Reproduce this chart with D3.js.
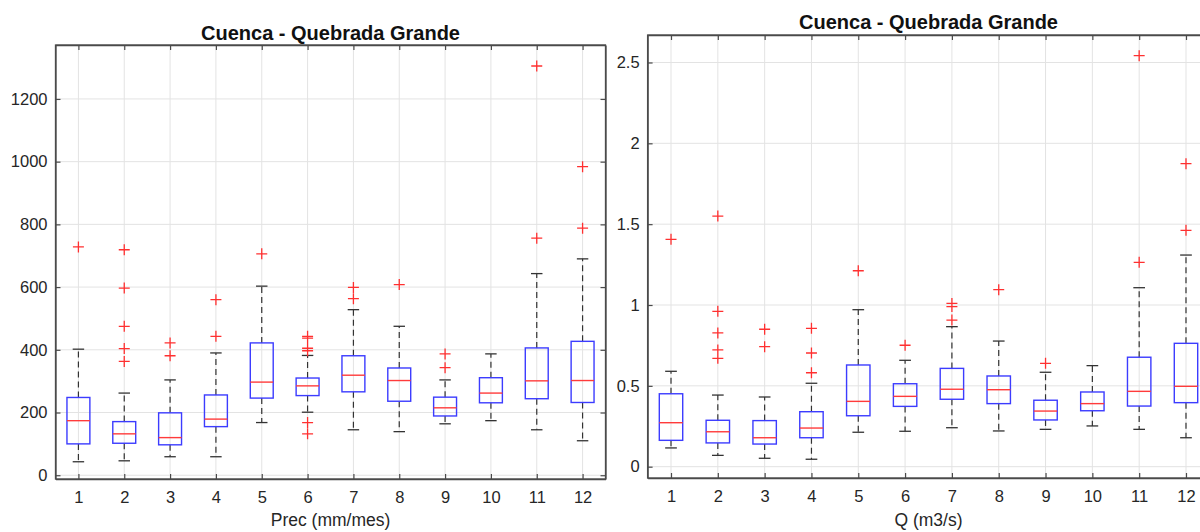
<!DOCTYPE html>
<html>
<head>
<meta charset="utf-8">
<script src="https://cdn.jsdelivr.net/npm/d3@7/dist/d3.min.js"></script>
<style>
  html, body { margin: 0; padding: 0; background: #fff; }
  svg { display: block; font-family: "Liberation Sans", Arial, Helvetica, sans-serif; }
</style>
</head>
<body>
<svg id="chart" width="1200" height="532"></svg>
<script>
// ---------- DATA ----------
const months = [1, 2, 3, 4, 5, 6, 7, 8, 9, 10, 11, 12];
const titleText = "Cuenca - Quebrada Grande";

// Left panel: Precipitation (mm/mes)
const precLow    = [43, 46, 59, 59, 168, 201, 145, 139, 164, 174, 145, 110];
const precQ1     = [100, 102, 97, 155, 246, 254, 266, 236, 189, 231, 244, 232];
const precMedian = [174, 132, 120, 179, 297, 285, 319, 302, 215, 262, 301, 302];
const precQ3     = [248, 171, 199, 256, 422, 310, 381, 342, 249, 311, 406, 427];
const precHigh   = [402, 262, 304, 390, 603, 382, 528, 475, 304, 387, 643, 690];
const precOutliers = [
  [728], [363, 404, 475, 597, 719], [381, 422], [443, 560], [706],
  [132, 168, 397, 405, 437, 443], [563, 599], [608], [343, 387], [], [756, 1305], [788, 984]
];
const precTicks = [0, 200, 400, 600, 800, 1000, 1200];

// Right panel: Discharge Q (m3/s)
const qLow    = [0.116, 0.070, 0.052, 0.046, 0.213, 0.219, 0.241, 0.221, 0.231, 0.252, 0.231, 0.179];
const qQ1     = [0.163, 0.147, 0.140, 0.179, 0.315, 0.373, 0.417, 0.390, 0.289, 0.346, 0.375, 0.396];
const qMedian = [0.272, 0.216, 0.179, 0.239, 0.404, 0.435, 0.479, 0.476, 0.344, 0.390, 0.466, 0.497];
const qQ3     = [0.451, 0.287, 0.285, 0.340, 0.629, 0.513, 0.608, 0.561, 0.411, 0.462, 0.677, 0.763];
const qHigh   = [0.590, 0.443, 0.431, 0.516, 0.971, 0.658, 0.866, 0.777, 0.584, 0.625, 1.107, 1.309];
const qOutliers = [
  [1.406], [0.670, 0.722, 0.827, 0.961, 1.550], [0.742, 0.850], [0.581, 0.703, 0.856], [1.212],
  [0.751], [0.907, 0.990, 1.010], [1.095], [0.639], [], [1.264, 2.542], [1.462, 1.874]
];
const qTicks = [0, 0.5, 1, 1.5, 2, 2.5];

// ---------- DRAW ----------
const svg = d3.select("#chart");

const panels = [
  {
    low: precLow, q1: precQ1, med: precMedian, q3: precQ3, high: precHigh, out: precOutliers,
    ticks: precTicks, xlabel: "Prec (mm/mes)",
    xRange: [55.5, 605.5], yDomain: [-12, 1372], yRange: [479, 45], titleY: 40
  },
  {
    low: qLow, q1: qQ1, med: qMedian, q3: qQ3, high: qHigh, out: qOutliers,
    ticks: qTicks, xlabel: "Q (m3/s)",
    xRange: [647.6, 1209.4], yDomain: [-0.07, 2.67], yRange: [478, 35], titleY: 29
  }
];

const axisColor = "#4a4a4a";
const textColor = "#262626";
const gridColor = "#e3e3e3";

panels.forEach(p => {
  const x = d3.scaleLinear().domain([0.5, 12.5]).range(p.xRange);
  const y = d3.scaleLinear().domain(p.yDomain).range(p.yRange);
  const [x0, x1] = p.xRange;
  const [yb, yt] = p.yRange;
  const g = svg.append("g");

  // grid
  g.append("g").selectAll("line.gx").data(months).join("line")
    .attr("x1", d => x(d)).attr("x2", d => x(d))
    .attr("y1", yt).attr("y2", yb)
    .attr("stroke", gridColor).attr("stroke-width", 1);
  g.append("g").selectAll("line.gy").data(p.ticks).join("line")
    .attr("x1", x0).attr("x2", x1)
    .attr("y1", d => y(d)).attr("y2", d => y(d))
    .attr("stroke", gridColor).attr("stroke-width", 1);

  // axes
  const fmt = d => String(d);
  const xb = g.append("g").attr("transform", `translate(0,${yb})`)
    .call(d3.axisBottom(x).tickValues(months).tickFormat(fmt).tickSizeInner(-5).tickSizeOuter(0).tickPadding(12));
  const xt = g.append("g").attr("transform", `translate(0,${yt})`)
    .call(d3.axisTop(x).tickValues(months).tickFormat("").tickSizeInner(-5).tickSizeOuter(0));
  const yl = g.append("g").attr("transform", `translate(${x0},0)`)
    .call(d3.axisLeft(y).tickValues(p.ticks).tickFormat(fmt).tickSizeInner(-5).tickSizeOuter(0).tickPadding(8));
  const yr = g.append("g").attr("transform", `translate(${x1},0)`)
    .call(d3.axisRight(y).tickValues(p.ticks).tickFormat("").tickSizeInner(-5).tickSizeOuter(0));
  [xb, xt, yl, yr].forEach(a => {
    a.selectAll("path.domain").attr("stroke", axisColor).attr("stroke-width", 1.3);
    a.selectAll(".tick line").attr("stroke", axisColor).attr("stroke-width", 1.2);
    a.selectAll(".tick text").attr("fill", textColor).style("font-size", "16.5px")
      .style("font-family", "'Liberation Sans', Arial, sans-serif");
  });
  g.append("rect").attr("x", x0).attr("y", yt).attr("width", x1 - x0).attr("height", yb - yt)
    .attr("fill", "none").attr("stroke", axisColor).attr("stroke-width", 1.3);

  const bw = x(0.5) - x(0.25);  // half box width (0.25 units)
  const cw = x(0.125) - x(0);   // half cap width

  const boxes = g.append("g").selectAll("g.box").data(months).join("g");

  // whiskers (dashed)
  boxes.append("line")
    .attr("x1", d => x(d)).attr("x2", d => x(d))
    .attr("y1", (d, i) => y(p.q3[i])).attr("y2", (d, i) => y(p.high[i]))
    .attr("stroke", "#333").attr("stroke-width", 1.2).attr("stroke-dasharray", "6,4");
  boxes.append("line")
    .attr("x1", d => x(d)).attr("x2", d => x(d))
    .attr("y1", (d, i) => y(p.q1[i])).attr("y2", (d, i) => y(p.low[i]))
    .attr("stroke", "#333").attr("stroke-width", 1.2).attr("stroke-dasharray", "6,4");
  // caps
  boxes.append("line")
    .attr("x1", d => x(d) - cw).attr("x2", d => x(d) + cw)
    .attr("y1", (d, i) => y(p.high[i])).attr("y2", (d, i) => y(p.high[i]))
    .attr("stroke", "#333").attr("stroke-width", 1.3);
  boxes.append("line")
    .attr("x1", d => x(d) - cw).attr("x2", d => x(d) + cw)
    .attr("y1", (d, i) => y(p.low[i])).attr("y2", (d, i) => y(p.low[i]))
    .attr("stroke", "#333").attr("stroke-width", 1.3);
  // box
  boxes.append("rect")
    .attr("x", d => x(d) - bw).attr("width", 2 * bw)
    .attr("y", (d, i) => y(p.q3[i])).attr("height", (d, i) => y(p.q1[i]) - y(p.q3[i]))
    .attr("fill", "none").attr("stroke", "#3c3cff").attr("stroke-width", 1.4);
  // median
  boxes.append("line")
    .attr("x1", d => x(d) - bw).attr("x2", d => x(d) + bw)
    .attr("y1", (d, i) => y(p.med[i])).attr("y2", (d, i) => y(p.med[i]))
    .attr("stroke", "#ff3b3b").attr("stroke-width", 1.4);
  // outliers
  const pts = [];
  months.forEach((m, i) => p.out[i].forEach(v => pts.push({ m, v })));
  const s = 5.5;
  g.append("path")
    .attr("d", pts.map(o => {
      const cx = x(o.m), cy = y(o.v);
      return `M${cx - s},${cy}H${cx + s}M${cx},${cy - s}V${cy + s}`;
    }).join(""))
    .attr("stroke", "#ff3030").attr("stroke-width", 1.3).attr("fill", "none");

  // title
  const cx = (x0 + x1) / 2;
  g.append("text").attr("x", cx).attr("y", p.titleY)
    .attr("text-anchor", "middle").attr("fill", "#111")
    .style("font-size", "20px").style("font-weight", "bold")
    .text(titleText);
  // x label
  g.append("text").attr("x", cx).attr("y", 526)
    .attr("text-anchor", "middle").attr("fill", textColor)
    .style("font-size", "17.5px")
    .text(p.xlabel);
});
</script>
</body>
</html>
